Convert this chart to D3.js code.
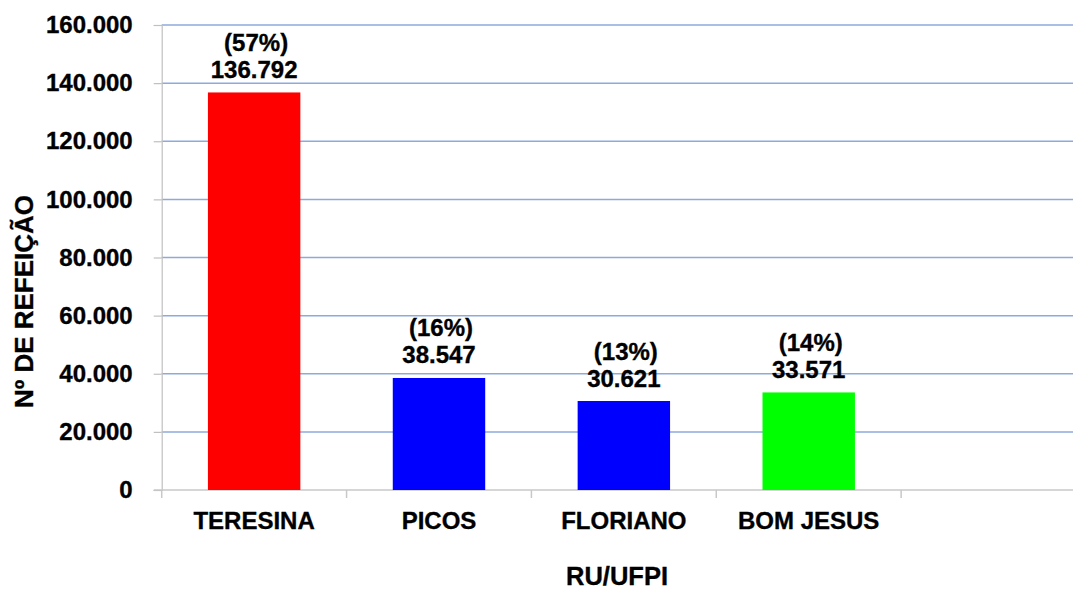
<!DOCTYPE html>
<html>
<head>
<meta charset="utf-8">
<script src="https://cdn.jsdelivr.net/npm/d3@7"></script>
<style>
  body { margin: 0; background: #fff; }
  text { font-family: "Liberation Sans", Arial, sans-serif; font-weight: bold; fill: #000; stroke: #000; stroke-width: 0.35px; }
</style>
</head>
<body>
<div id="main"></div>
<script>
const categories = ["TERESINA", "PICOS", "FLORIANO", "BOM JESUS", ""];
const values = [136792, 38547, 30621, 33571];
const percents = ["(57%)", "(16%)", "(13%)", "(14%)"];
const colors = ["#ff0000", "#0000ff", "#0000ff", "#00ff00"];
const yTicks = [0, 20000, 40000, 60000, 80000, 100000, 120000, 140000, 160000];

const width = 1073;
const height = 589;

const plot = { left: 161.7, right: 1086, top: 25, bottom: 490 };

const fmt = d => d === 0 ? "0" : d3.format(",")(d).replace(/,/g, ".");

const svg = d3.select("#main")
  .append("svg")
  .attr("width", width)
  .attr("height", height);

const xScale = d3.scaleBand()
  .domain(categories.map((d, i) => i))
  .range([plot.left, plot.right])
  .paddingInner(0.5)
  .paddingOuter(0.25);

const bandStep = (plot.right - plot.left) / categories.length;

const yScale = d3.scaleLinear()
  .domain([0, 160000])
  .range([plot.bottom, plot.top]);

// gridlines
svg.append("g")
  .selectAll("line")
  .data(yTicks.filter(d => d > 0))
  .enter()
  .append("line")
  .attr("x1", plot.left)
  .attr("x2", plot.right)
  .attr("y1", d => yScale(d))
  .attr("y2", d => yScale(d))
  .attr("stroke", "#8eaadb")
  .attr("stroke-width", 1.5);

// y axis
const yAxis = d3.axisLeft(yScale)
  .tickValues(yTicks)
  .tickSize(8)
  .tickPadding(21)
  .tickFormat(fmt);

const gy = svg.append("g")
  .attr("transform", "translate(" + plot.left + ",0)")
  .call(yAxis);
gy.select(".domain").attr("stroke", "#c0c0c0").attr("stroke-width", 1.2);
gy.selectAll(".tick line").attr("stroke", "#c0c0c0").attr("stroke-width", 1.2);
gy.selectAll("text").style("font-size", "24px").attr("fill", "#000");

// x axis (baseline + category boundary ticks)
svg.append("line")
  .attr("x1", plot.left - 8)
  .attr("x2", plot.right)
  .attr("y1", plot.bottom)
  .attr("y2", plot.bottom)
  .attr("stroke", "#c8c8c8")
  .attr("stroke-width", 1.5);

svg.append("g")
  .selectAll("line")
  .data(categories)
  .enter()
  .append("line")
  .attr("x1", (d, i) => plot.left + i * bandStep)
  .attr("x2", (d, i) => plot.left + i * bandStep)
  .attr("y1", plot.bottom)
  .attr("y2", plot.bottom + 8)
  .attr("stroke", "#c8c8c8")
  .attr("stroke-width", 1.5);

svg.append("g")
  .selectAll("text")
  .data(categories)
  .enter()
  .append("text")
  .attr("x", (d, i) => xScale(i) + xScale.bandwidth() / 2)
  .attr("y", 528.5)
  .attr("text-anchor", "middle")
  .style("font-size", "24px")
  .text(d => d);

// bars
svg.append("g")
  .selectAll("rect")
  .data(values)
  .enter()
  .append("rect")
  .attr("x", (d, i) => xScale(i))
  .attr("y", d => yScale(d))
  .attr("width", xScale.bandwidth())
  .attr("height", d => plot.bottom - yScale(d))
  .attr("fill", (d, i) => colors[i]);

// data labels
const labels = svg.append("g")
  .selectAll("g")
  .data(values)
  .enter()
  .append("g")
  .attr("transform", (d, i) => "translate(" + (xScale(i) + xScale.bandwidth() / 2) + "," + (yScale(d) - 14.5) + ")");

labels.append("text")
  .attr("text-anchor", "middle")
  .style("font-size", "24px")
  .text(d => fmt(d));

labels.append("text")
  .attr("text-anchor", "middle")
  .attr("x", 2)
  .attr("y", -27)
  .style("font-size", "24px")
  .text((d, i) => percents[i]);

// axis titles
svg.append("text")
  .attr("transform", "translate(33,301.5) rotate(-90)")
  .attr("text-anchor", "middle")
  .style("font-size", "26px")
  .text("Nº DE REFEIÇÃO");

svg.append("text")
  .attr("x", 617)
  .attr("y", 584.5)
  .attr("text-anchor", "middle")
  .style("font-size", "25.5px")
  .text("RU/UFPI");
</script>
</body>
</html>
